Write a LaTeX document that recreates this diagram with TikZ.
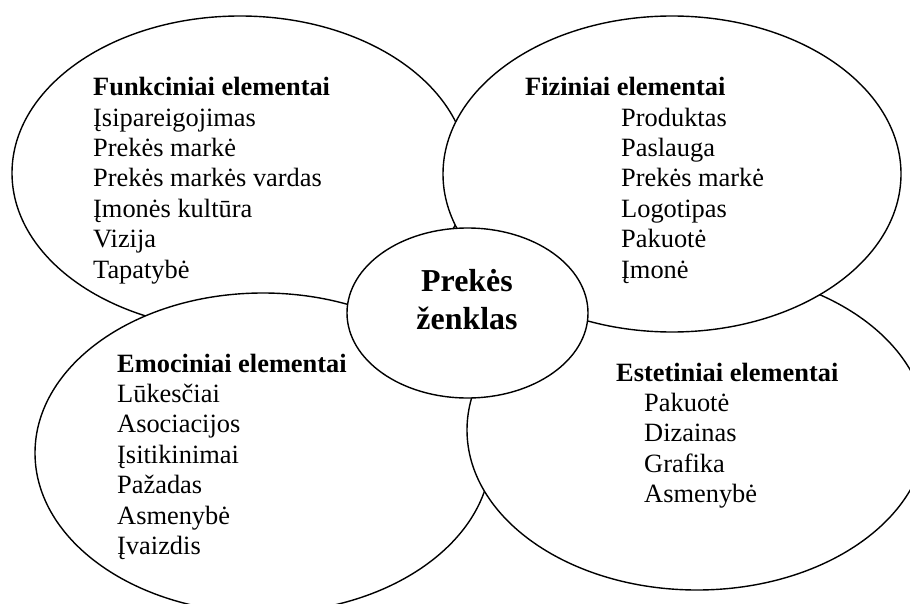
\documentclass[tikz,border=0pt]{standalone}
\usepackage{fontspec}
\setmainfont{Liberation Serif}
\usetikzlibrary{shapes.geometric}

\tikzset{
  blob/.style={ellipse, draw=black, fill=white, line width=1.4pt, inner sep=0pt, outer sep=0pt},
  heading/.style={anchor=base west, inner sep=0pt, font=\fontsize{26.4}{30.4}\selectfont\bfseries},
  % multi-line lists are placed by the baseline of their last line
  items/.style={anchor=base west, inner sep=0pt, align=left, font=\fontsize{26.4}{30.4}\selectfont},
  hub/.style={anchor=base, inner sep=0pt, font=\fontsize{31.9}{38}\selectfont\bfseries}
}

\begin{document}
\begin{tikzpicture}[x=1pt, y=-1pt]
  \useasboundingbox (0,0) rectangle (910,604);
  \clip (0,0) rectangle (910,604);

  % four outer areas, stacked back to front
  \node[blob, minimum width=456pt, minimum height=314pt] (funk) at (240,173) {};
  \node[blob, minimum width=456pt, minimum height=320pt] (emoc) at (263,453) {};
  \node[blob, minimum width=460pt, minimum height=320pt] (estet) at (697,430) {};
  \node[blob, minimum width=458pt, minimum height=316pt] (fiz) at (672,174) {};
  % central brand ellipse
  \node[blob, minimum width=241pt, minimum height=170pt] (hub) at (467.5,313) {};

  % labels
  \node[hub] (hubA) at (467,291) {Prekės};
  \node[hub] (hubB) at (467,329) {ženklas};

  \node[heading] (funkH) at (93,95.7) {Funkciniai elementai};
  \node[items] (funkL) at (93,278.1) {Įsipareigojimas\\Prekės markė\\Prekės markės vardas\\Įmonės kultūra\\Vizija\\Tapatybė};

  \node[heading] (fizH) at (525,95.7) {Fiziniai elementai};
  \node[items] (fizL) at (621,278.1) {Produktas\\Paslauga\\Prekės markė\\Logotipas\\Pakuotė\\Įmonė};

  \node[heading] (emocH) at (117,372) {Emociniai elementai};
  \node[items] (emocL) at (117,554.4) {Lūkesčiai\\Asociacijos\\Įsitikinimai\\Pažadas\\Asmenybė\\Įvaizdis};

  \node[heading] (estetH) at (616,381) {Estetiniai elementai};
  \node[items] (estetL) at (644,502.6) {Pakuotė\\Dizainas\\Grafika\\Asmenybė};
\end{tikzpicture}
\end{document}
